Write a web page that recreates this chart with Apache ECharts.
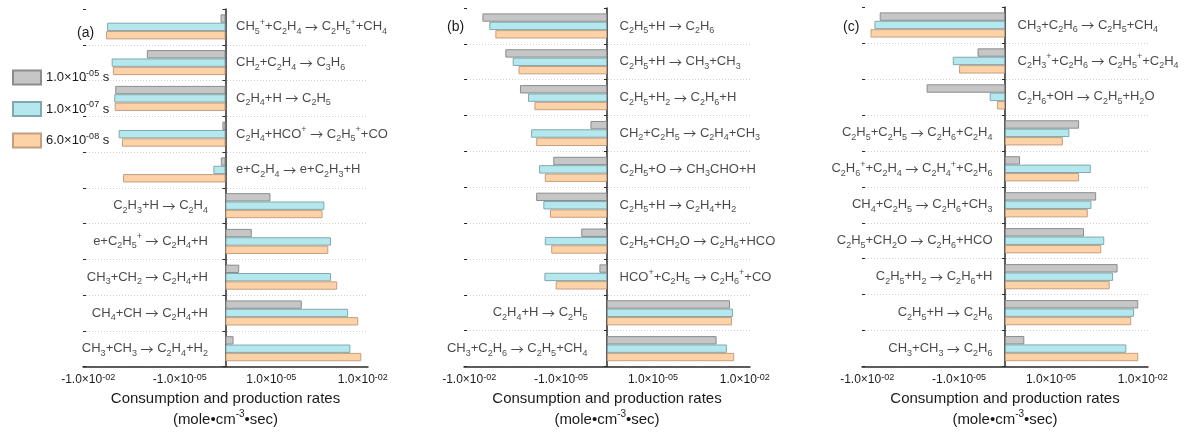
<!DOCTYPE html>
<html>
<head>
<meta charset="utf-8">
<script src="https://cdn.jsdelivr.net/npm/echarts@6/dist/echarts.min.js"></script>
<style>
  html, body { margin: 0; padding: 0; background: #fff; }
  #chart { width: 1184px; height: 432px; }
</style>
</head>
<body>
<div id="chart"></div>
<script>
// Residence times (legend entries); "^{..}" marks superscript, "_x" subscript
const timeLabels = ['1.0×10^{-05} s', '1.0×10^{-07} s', '6.0×10^{-08} s'];

// x-axis tick values (mole·cm^-3·sec)
const tickValues = [-1e-2, -1e-5, 1e-5, 1e-2];

// Panel (a): C2H4 reactions
const reactionsA = [
  'CH_5^++C_2H_4 → C_2H_5^++CH_4',
  'CH_2+C_2H_4 → C_3H_6',
  'C_2H_4+H → C_2H_5',
  'C_2H_4+HCO^+ → C_2H_5^++CO',
  'e+C_2H_4 → e+C_2H_3+H',
  'C_2H_3+H → C_2H_4',
  'e+C_2H_5^+ → C_2H_4+H',
  'CH_3+CH_2 → C_2H_4+H',
  'CH_4+CH → C_2H_4+H',
  'CH_3+CH_3 → C_2H_4+H_2'
];
const ratesA_1e5 = [-4.6e-7, -1.2e-4, -1.3e-3, -4.0e-7, -4.5e-7, 9.4e-6, 2.3e-6, 8.9e-7, 1.0e-4, 5.8e-7];
const ratesA_1e7 = [-2.4e-3, -1.7e-3, -1.4e-3, -1.0e-3, -7.9e-7, 5.5e-4, 9.1e-4, 9.1e-4, 3.3e-3, 3.9e-3];
const ratesA_6e8 = [-2.6e-3, -1.55e-3, -1.35e-3, -7.8e-4, -7.2e-4, 4.8e-4, 7.4e-4, 1.45e-3, 7.1e-3, 8.9e-3];

// Panel (b): C2H5 reactions
const reactionsB = [
  'C_2H_5+H → C_2H_6',
  'C_2H_5+H → CH_3+CH_3',
  'C_2H_5+H_2 → C_2H_6+H',
  'CH_2+C_2H_5 → C_2H_4+CH_3',
  'C_2H_5+O → CH_3CHO+H',
  'C_2H_5+H → C_2H_4+H_2',
  'C_2H_5+CH_2O → C_2H_6+HCO',
  'HCO^++C_2H_5 → C_2H_6^++CO',
  'C_2H_4+H → C_2H_5',
  'CH_3+C_2H_6 → C_2H_5+CH_4'
];
const ratesB_1e5 = [-3.7e-3, -6.6e-4, -2.2e-4, -1.1e-6, -1.8e-5, -6.5e-5, -2.2e-6, -5.6e-7, 3.3e-3, 1.2e-3];
const ratesB_1e7 = [-2.2e-3, -3.8e-4, -1.2e-4, -9.5e-5, -5.2e-5, -3.8e-5, -3.4e-5, -3.5e-5, 4.1e-3, 2.6e-3];
const ratesB_6e8 = [-1.4e-3, -2.45e-4, -7.4e-5, -6.5e-5, -3.4e-5, -2.3e-5, -2.1e-5, -1.5e-5, 3.8e-3, 4.5e-3];

// Panel (c): C2H6 reactions
const reactionsC = [
  'CH_3+C_2H_6 → C_2H_5+CH_4',
  'C_2H_3^++C_2H_6 → C_2H_5^++C_2H_4',
  'C_2H_6+OH → C_2H_5+H_2O',
  'C_2H_5+C_2H_5 → C_2H_6+C_2H_4',
  'C_2H_6^++C_2H_4 → C_2H_4^++C_2H_6',
  'CH_4+C_2H_5 → C_2H_6+CH_3',
  'C_2H_5+CH_2O → C_2H_6+HCO',
  'C_2H_5+H_2 → C_2H_6+H',
  'C_2H_5+H → C_2H_6',
  'CH_3+CH_3 → C_2H_6'
];
const ratesC_1e5 = [-3.9e-3, -2.5e-6, -1.15e-4, 8.3e-5, 9.8e-7, 3.0e-4, 1.2e-4, 1.5e-3, 7.1e-3, 1.35e-6];
const ratesC_1e7 = [-5.8e-3, -1.6e-5, -1.0e-6, 4.0e-5, 2.0e-4, 2.1e-4, 5.5e-4, 1.07e-3, 5.2e-3, 2.9e-3];
const ratesC_6e8 = [-7.8e-3, -1.0e-5, -5.8e-7, 2.45e-5, 8.3e-5, 1.6e-4, 4.4e-4, 8.3e-4, 4.2e-3, 7.1e-3];

// ---------------------------------------------------------------------------
// Signed log scale: |v| is mapped to decades above LOG_FLOOR, sign kept.
const LOG_FLOOR = -6.5;
const AXIS_SPAN = 4.67;
function toAxis(v) {
  if (v === 0) return 0;
  return Math.sign(v) * (Math.log10(Math.abs(v)) - LOG_FLOOR);
}
function fromAxis(t) {
  if (t === 0) return 0;
  return Math.sign(t) * Math.pow(10, Math.abs(t) + LOG_FLOOR);
}

// Tiny markup -> ECharts rich text
// "_x"/"_{..}" subscript, "^x"/"^{..}" superscript, "→" gets its own glyph style
function parseMarkup(s) {
  const out = [];
  let buf = '';
  let i = 0;
  const flush = () => { if (buf) { out.push(['n', buf]); buf = ''; } };
  while (i < s.length) {
    const c = s[i];
    if (c === '_' || c === '^') {
      flush();
      let seg;
      if (s[i + 1] === '{') {
        const j = s.indexOf('}', i + 2);
        seg = s.slice(i + 2, j);
        i = j + 1;
      } else {
        seg = s[i + 1];
        i += 2;
      }
      out.push([c === '_' ? 'b' : 'p', seg]);
    } else if (c === '→') {
      flush();
      out.push(['a', c]);
      i++;
    } else {
      buf += c;
      i++;
    }
  }
  flush();
  return out;
}
function rich(s, prefix) {
  return s.split('\n').map(line =>
    parseMarkup(line).map(([k, t]) => '{' + prefix + k + '|' + t + '}').join('')
  ).join('\n');
}
function richStyles(prefix, size, subSize, lineHeight, color) {
  const base = { fontFamily: FONT, color: color };
  const st = {};
  st[prefix + 'n'] = Object.assign({ fontSize: size, lineHeight: lineHeight }, base);
  st[prefix + 'b'] = Object.assign({ fontSize: subSize, lineHeight: subSize, verticalAlign: 'bottom' }, base);
  st[prefix + 'p'] = Object.assign({ fontSize: subSize, lineHeight: subSize, verticalAlign: 'top' }, base);
  st[prefix + 'a'] = { fontSize: size, lineHeight: lineHeight, color: color, fontFamily: ARROW_FONT };
  return st;
}

function tickText(t) {
  const v = fromAxis(t);
  const e = Math.round(Math.log10(Math.abs(v)));
  const m = Math.abs(v) / Math.pow(10, e);
  const exp = (e < 0 ? '-' : '') + String(Math.abs(e)).padStart(2, '0');
  return (v < 0 ? '-' : '') + m.toFixed(1) + '×10^{' + exp + '}';
}

const FONT = '"Liberation Sans", Arial, Helvetica, sans-serif';
const ARROW_FONT = '"Noto Sans CJK SC", "Liberation Sans", sans-serif';
const TEXT = '#1a1a1a';
const AXIS = '#2a2a2a';

const seriesStyles = [
  { color: '#c6c6c6', borderColor: '#8c8c8c' },
  { color: '#b4e8ee', borderColor: '#7fa9ae' },
  { color: '#fdd2a6', borderColor: '#c49e80' }
];

const panels = [
  { tag: '(a)', reactions: reactionsA, rates: [ratesA_1e5, ratesA_1e7, ratesA_6e8],
    grid: { left: 83, top: 9, width: 285, height: 360 }, tagPos: { left: 77, top: 26 }, gaps: [10, 17] },
  { tag: '(b)', reactions: reactionsB, rates: [ratesB_1e5, ratesB_1e7, ratesB_6e8],
    grid: { left: 464, top: 8, width: 286, height: 360 }, tagPos: { left: 447, top: 20 }, gaps: [12, 19] },
  { tag: '(c)', reactions: reactionsC, rates: [ratesC_1e5, ratesC_1e7, ratesC_6e8],
    grid: { left: 862, top: 7, width: 286, height: 360 }, tagPos: { left: 843, top: 20 }, gaps: [12, 12] }
];

const reactionRich = richStyles('r', 13, 9, 18, TEXT);
const tickRich = richStyles('x', 12, 9, 15, TEXT);
const nameRich = richStyles('t', 15, 10, 21, TEXT);
const legendRich = richStyles('l', 13, 9, 17, TEXT);

const categoryAxis = (p, k, inner) => ({
  type: 'category', gridIndex: k, data: p.reactions, inverse: true,
  position: 'left',
  axisLine: { show: !inner, onZero: true, lineStyle: { color: AXIS, width: 1.5 } },
  axisTick: { show: true, inside: inner, length: 3, lineStyle: { color: AXIS, width: 1 } },
  axisLabel: { show: false },
  splitLine: inner ? { show: false } : {
    show: true,
    interval: (i) => i > 0,
    lineStyle: { color: '#d2d2d2', type: [1, 2], width: 1 }
  }
});

const option = {
  animation: false,
  backgroundColor: '#ffffff',
  textStyle: { fontFamily: FONT },
  title: panels.map(p => ({
    text: p.tag, left: p.tagPos.left, top: p.tagPos.top, padding: 0,
    textStyle: { fontSize: 14, fontWeight: 'normal', color: TEXT, fontFamily: FONT }
  })),
  legend: {
    data: timeLabels,
    orient: 'vertical',
    left: 12, top: 69, padding: 0,
    itemWidth: 28, itemHeight: 14, itemGap: 15,
    icon: 'rect',
    selectedMode: false,
    formatter: n => rich(n, 'l'),
    textStyle: { rich: legendRich }
  },
  grid: panels.map(p => Object.assign({ containLabel: false }, p.grid)),
  xAxis: panels.map((p, k) => ({
    type: 'value', gridIndex: k, min: -AXIS_SPAN, max: AXIS_SPAN,
    axisLine: { show: true, onZero: false, lineStyle: { color: AXIS, width: 1.5 } },
    axisTick: { show: false },
    splitLine: { show: false },
    axisLabel: {
      customValues: tickValues.map(toAxis),
      formatter: t => rich(tickText(t), 'x'),
      rich: tickRich, margin: 6
    },
    name: rich('Consumption and production rates\n(mole•cm^{-3}•sec)', 't'),
    nameLocation: 'middle', nameGap: 19,
    nameTextStyle: { rich: nameRich }
  })),
  // outer ticks + axis line, then a second copy for the inner half of each tick
  yAxis: panels.map((p, k) => categoryAxis(p, k, false))
    .concat(panels.map((p, k) => categoryAxis(p, k, true))),
  series: []
};

panels.forEach((p, k) => {
  p.rates.forEach((vals, s) => {
    option.series.push({
      type: 'bar', name: timeLabels[s],
      xAxisIndex: k, yAxisIndex: k,
      data: vals.map(toAxis),
      barGap: '0%', barCategoryGap: '30%',
      itemStyle: Object.assign({ borderWidth: 1 }, seriesStyles[s]),
      emphasis: { disabled: true },
      silent: true
    });
  });
  // reaction names sit beside the zero line, opposite to the bars
  option.series.push({
    type: 'scatter', xAxisIndex: k, yAxisIndex: k,
    symbolSize: 1, silent: true, z: 5,
    itemStyle: { color: 'rgba(0,0,0,0)' },
    data: p.reactions.map((r, i) => {
      const net = p.rates.reduce((a, vals) => a + Math.sign(vals[i]), 0);
      const right = net < 0;
      return {
        value: [0, i],
        label: { position: right ? 'right' : 'left', distance: right ? p.gaps[0] : p.gaps[1] }
      };
    }),
    label: {
      show: true,
      formatter: prm => rich(p.reactions[prm.dataIndex], 'r'),
      rich: reactionRich
    }
  });
});

const chart = echarts.init(document.getElementById('chart'), null, { renderer: 'canvas' });
chart.setOption(option);
</script>
</body>
</html>
